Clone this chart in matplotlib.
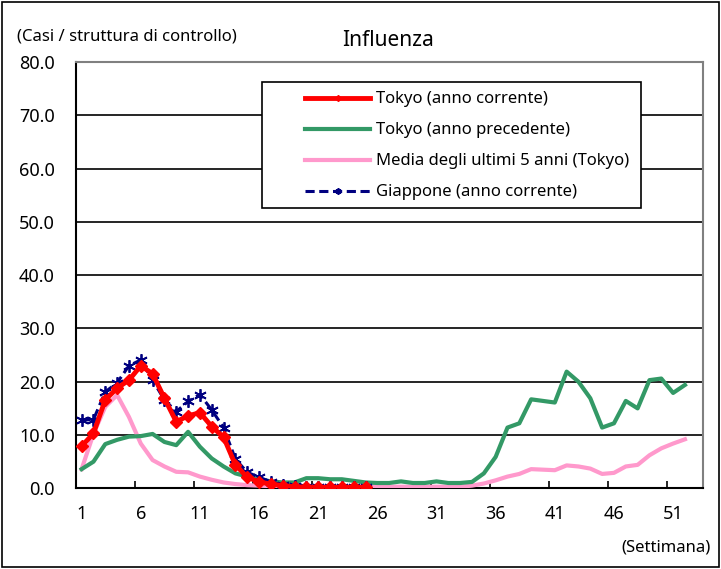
import matplotlib
matplotlib.use('Agg')
import matplotlib.pyplot as plt
from matplotlib.patches import Rectangle

plt.rcParams['font.family'] = ['Noto Sans', 'DejaVu Sans']

weeks = list(range(1, 53))
tick_weeks = [1, 6, 11, 16, 21, 26, 31, 36, 41, 46, 51]

# Tokyo (anno corrente), weeks 1-25
tokyo_now = [7.9, 10.3, 16.6, 18.8, 20.3, 23.0, 21.5, 16.9, 12.5, 13.6,
             14.2, 11.6, 9.6, 4.4, 2.1, 1.2, 0.8, 0.5, 0.3, 0.2,
             0.2, 0.2, 0.2, 0.2, 0.2]
# Giappone (anno corrente), weeks 1-25
japan_now = [12.8, 12.9, 18.1, 19.8, 23.0, 24.1, 20.3, 16.6, 14.4, 16.3,
             17.6, 14.7, 11.4, 5.5, 3.0, 2.1, 1.2, 0.7, 0.4, 0.3,
             0.2, 0.2, 0.2, 0.2, 0.2]
# Tokyo (anno precedente), weeks 1-52
tokyo_prev = [3.6, 5.0, 8.3, 9.1, 9.7, 9.8, 10.2, 8.7, 8.1, 10.6,
              7.8, 5.6, 4.1, 2.8, 2.2, 1.7, 1.3, 1.1, 1.1, 1.9,
              1.9, 1.7, 1.7, 1.4, 1.1, 1.0, 1.0, 1.3, 1.0, 1.0,
              1.3, 1.0, 1.0, 1.2, 2.8, 5.9, 11.4, 12.2, 16.7, 16.4,
              16.1, 21.9, 20.0, 16.9, 11.4, 12.2, 16.4, 15.0, 20.3, 20.6,
              17.9, 19.4]
# Media degli ultimi 5 anni (Tokyo), weeks 1-52
avg5 = [3.6, 10.2, 15.3, 17.5, 13.4, 8.4, 5.3, 4.1, 3.1, 3.0,
        2.2, 1.6, 1.1, 0.8, 0.6, 0.5, 0.4, 0.4, 0.3, 0.3,
        0.3, 0.3, 0.3, 0.3, 0.3, 0.3, 0.3, 0.3, 0.3, 0.3,
        0.3, 0.3, 0.3, 0.5, 0.9, 1.5, 2.2, 2.7, 3.6, 3.5,
        3.4, 4.3, 4.1, 3.7, 2.7, 2.9, 4.1, 4.4, 6.2, 7.5,
        8.4, 9.2]

fig = plt.figure(figsize=(7.21, 5.69), dpi=100)
ax = fig.add_axes([0.105, 0.1418, 0.8696, 0.7492])

ax.plot(weeks, avg5, color='#FF99CC', lw=3.0, label='Media degli ultimi 5 anni (Tokyo)', zorder=3)
ax.plot(weeks, tokyo_prev, color='#339966', lw=3.0, label='Tokyo (anno precedente)', zorder=4)
ax.plot(weeks[:len(japan_now)], japan_now, color='#000080', lw=2.2, ls=(0, (3, 1.5)),
        marker=(6, 2, 0), ms=9, mew=1.3, label='Giappone (anno corrente)', zorder=5)
ax.plot(weeks[:len(tokyo_now)], tokyo_now, color='#FF0000', lw=3.5, marker='D', ms=6,
        label='Tokyo (anno corrente)', zorder=6)

ax.set_xlim(0.5, 53.5)
ax.set_ylim(0, 80)
ax.set_yticks(range(0, 81, 10))
ax.set_yticklabels([f'{v:.1f}' for v in range(0, 81, 10)])
ax.yaxis.grid(True, color='black', lw=1.2)
ax.set_axisbelow(True)
ax.yaxis.set_tick_params(which='major', length=0, pad=15, labelsize=13)

ax.set_xticks(tick_weeks)
ax.set_xticklabels([str(w) for w in tick_weeks])
ax.set_xticks([w - 0.5 for w in tick_weeks], minor=True)
ax.xaxis.set_tick_params(which='major', length=0, pad=12, labelsize=13)
ax.xaxis.set_tick_params(which='minor', length=5, direction='in', width=1.2)

for s in ['left', 'bottom']:
    ax.spines[s].set_color('black')
    ax.spines[s].set_linewidth(1.5)
for s in ['top', 'right']:
    ax.spines[s].set_color('#808080')
    ax.spines[s].set_linewidth(1.5)

# legend box drawn by hand so the handles can sit well inside it
ax.add_patch(Rectangle((0.297, 0.657), 0.605, 0.296, transform=ax.transAxes,
                       facecolor='white', edgecolor='black', lw=1.2, zorder=9))
handles, labels = ax.get_legend_handles_labels()
order = [3, 1, 0, 2]
leg = ax.legend([handles[i] for i in order], [labels[i] for i in order],
                loc='upper left', bbox_to_anchor=(0.366, 0.931), fontsize=12,
                frameon=False, handlelength=3.9, handletextpad=0.35, borderpad=0,
                labelspacing=0.9, borderaxespad=0, markerscale=0.5)
leg.set_zorder(10)

fig.text(0.024, 0.935, '(Casi / struttura di controllo)', fontsize=12, va='center', ha='left')
fig.text(0.538, 0.928, 'Influenza', fontsize=15, va='center', ha='center')
fig.text(0.985, 0.037, '(Settimana)', fontsize=12, va='center', ha='right')

fig.patches.append(Rectangle((0.003, 0.003), 0.994, 0.994, transform=fig.transFigure,
                             fill=False, edgecolor='black', lw=1.2))

fig.savefig('out.png', dpi=100)
